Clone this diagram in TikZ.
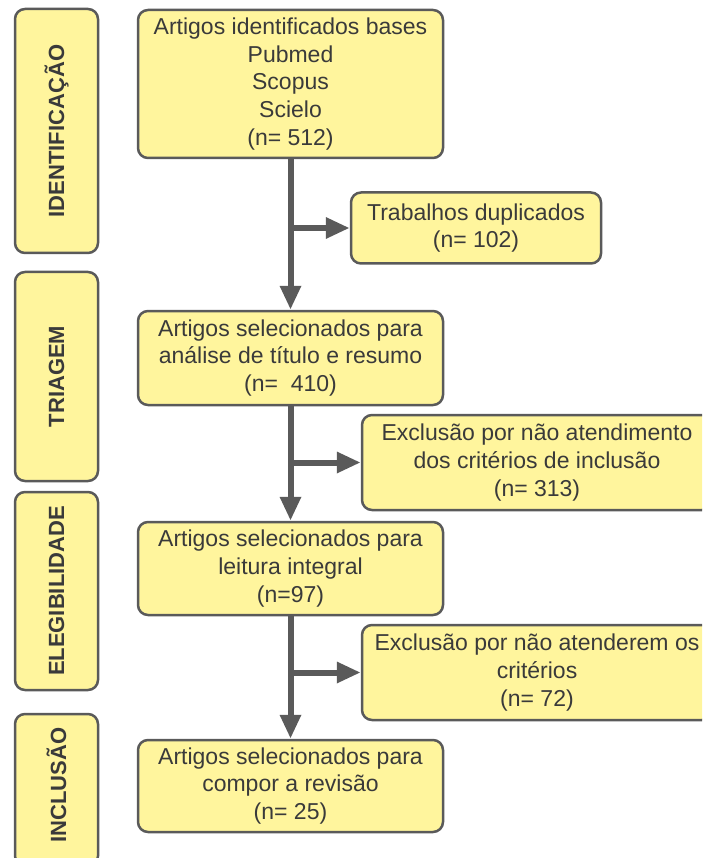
\documentclass[tikz,border=0pt]{standalone}
\usepackage{fontspec}
\setmainfont{Liberation Sans}
\usetikzlibrary{arrows.meta}
\definecolor{boxfill}{HTML}{FFF59D}
\definecolor{edge}{HTML}{5A5A5A}
\definecolor{txt}{HTML}{3A3A3A}
\begin{document}
\begin{tikzpicture}[x=1pt,y=-1pt,
  box/.style={draw=edge, line width=2.5pt, fill=boxfill, rounded corners=10pt,
    text=txt, align=center, font=\fontsize{23}{27.6}\selectfont, inner sep=0pt},
  side/.style={box, rotate=90, font=\bfseries\fontsize{22}{26}\selectfont},
  arr/.style={draw=edge, line width=6pt, -{Triangle[length=24pt,width=20pt]}}]
\useasboundingbox (0,0) rectangle (702,858);
\clip (0,0) rectangle (702,858);
% side boxes
\node[side, minimum width=244pt, minimum height=83pt] (s1) at (56.5,131) {IDENTIFICAÇÃO};
\node[side, minimum width=209pt, minimum height=83pt] (s2) at (56.5,376.5) {TRIAGEM};
\node[side, minimum width=198pt, minimum height=83pt] (s3) at (56.5,591) {ELEGIBILIDADE};
\node[side, minimum width=152pt, minimum height=83pt] (s4) at (56.5,790) {};
\node[rotate=90, text=txt, font=\bfseries\fontsize{22}{26}\selectfont] (s4t) at (56.5,785) {INCLUSÃO};
% main boxes
\node[box, minimum width=305pt, minimum height=148pt] (b1) at (290.5,84)
  {Artigos identificados bases\\Pubmed\\Scopus\\Scielo\\(n= 512)};
\node[box, minimum width=250pt, minimum height=71pt] (b2) at (476,228)
  {Trabalhos duplicados\\(n= 102)};
\node[box, minimum width=305pt, minimum height=94pt] (b3) at (290.5,358)
  {Artigos selecionados para\\análise de título e resumo\\(n=\ \ 410)};
\node[box, minimum width=350pt, minimum height=95pt] (b4) at (537,462.5)
  {Exclusão por não atendimento\\dos critérios de inclusão\\(n= 313)};
\node[box, minimum width=305pt, minimum height=93pt] (b5) at (290.5,568.5)
  {Artigos selecionados para\\leitura integral\\(n=97)};
\node[box, minimum width=350pt, minimum height=95pt] (b6) at (537,672.5)
  {Exclusão por não atenderem os\\critérios\\(n= 72)};
\node[box, minimum width=305pt, minimum height=92pt] (b7) at (290.5,786)
  {Artigos selecionados para\\compor a revisão\\(n= 25)};
% connectors
\draw[arr] (b1.south) -- (b3.north);
\draw[arr] (b1.south |- b2.west) -- (b2.west);
\draw[arr] (b3.south) -- (b5.north);
\draw[arr] (b3.south |- b4.west) -- (b4.west);
\draw[arr] (b5.south) -- (b7.north);
\draw[arr] (b5.south |- b6.west) -- (b6.west);
\end{tikzpicture}
\end{document}
